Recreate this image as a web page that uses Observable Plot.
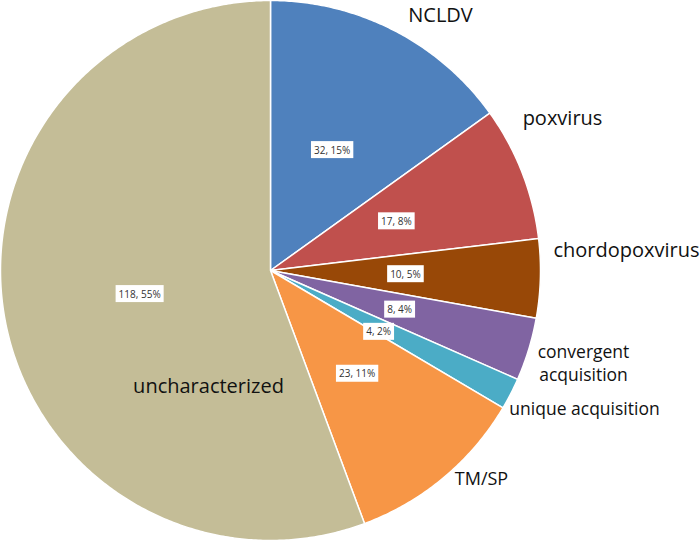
<!DOCTYPE html>
<html>
<head>
<meta charset="utf-8">
<script src="https://cdn.jsdelivr.net/npm/d3@7"></script>
<script src="https://cdn.jsdelivr.net/npm/@observablehq/plot@0.6"></script>
<style>
  html, body { margin: 0; padding: 0; background: #fff; }
  #chart { width: 700px; height: 540px; }
  svg { font-family: "Open Sans", "DejaVu Sans", sans-serif; }
</style>
</head>
<body>
<div id="chart"></div>
<script>
// ---- data ----
const categories = ["NCLDV", "poxvirus", "chordopoxvirus", "convergent acquisition", "unique acquisition", "TM/SP", "uncharacterized"];
const counts = [32, 17, 10, 8, 4, 23, 118];
const percents = [15, 8, 5, 4, 2, 11, 55];
const colors = ["#4F81BD", "#C0504D", "#984807", "#8064A2", "#4BACC6", "#F79646", "#C4BD97"];
const nameLabels = ["NCLDV", "poxvirus", "chordopoxvirus", "convergent\nacquisition", "unique acquisition", "TM/SP", "uncharacterized"];

// ---- layout (label anchors relative to pie centre, in pie units where radius = 270) ----
const R = 270;
const nameAnchors = [[170, 257], [292, 154], [356, 22], [313, -92], [314, -137], [211, -207], [-62, -114]];
const nameSizes = [20, 20, 20, 17.5, 17.5, 18, 20];
const valueNudges = [[0, 0], [0, 0], [0, 0], [0, 0], [-12, 0], [0, 0], [2, 0]];

// ---- geometry from data ----
const arcs = d3.pie().sort(null).value(d => d)(counts);
const slices = [];
arcs.forEach((a, i) => {
  const pts = [[0, 0]];
  const n = Math.max(2, Math.ceil((a.endAngle - a.startAngle) / (Math.PI / 360)));
  for (let k = 0; k <= n; k++) {
    const t = a.startAngle + (a.endAngle - a.startAngle) * k / n;
    pts.push([R * Math.sin(t), R * Math.cos(t)]);
  }
  pts.push([0, 0]);
  pts.forEach(p => slices.push({cat: categories[i], x: p[0], y: p[1]}));
});
const valueLabels = arcs.map((a, i) => {
  const m = (a.startAngle + a.endAngle) / 2;
  return {cat: categories[i], x: 0.5 * R * Math.sin(m) + valueNudges[i][0], y: 0.5 * R * Math.cos(m) + valueNudges[i][1], text: `${counts[i]}, ${percents[i]}%`};
});
const names = categories.map((c, i) => ({cat: c, x: nameAnchors[i][0], y: nameAnchors[i][1], text: nameLabels[i], size: nameSizes[i]}));

const chart = Plot.plot({
  width: 700,
  height: 540,
  margin: 0,
  x: {domain: [-270, 430], range: [0, 700], axis: null},
  y: {domain: [-270, 270], range: [540, 0], axis: null},
  color: {domain: categories, range: colors},
  marks: [
    Plot.line(slices, {x: "x", y: "y", z: "cat", fill: "cat", stroke: "white", strokeWidth: 1.5, strokeLinejoin: "round", curve: "linear"}),
    Plot.text(valueLabels, {x: "x", y: "y", text: "text", fontSize: 10, fill: "#333", className: "vlabel"}),
    ...names.map(d => Plot.text([d], {x: "x", y: "y", text: "text", fontSize: d.size, fill: "#111", lineHeight: 1.3}))
  ]
});
document.getElementById("chart").appendChild(chart);

// white boxes behind the value labels
chart.querySelectorAll(".vlabel text").forEach(t => {
  const b = t.getBBox();
  const r = document.createElementNS("http://www.w3.org/2000/svg", "rect");
  r.setAttribute("x", b.x - 3);
  r.setAttribute("y", b.y - 1.5);
  r.setAttribute("width", b.width + 6);
  r.setAttribute("height", b.height + 3);
  r.setAttribute("fill", "white");
  const tr = t.getAttribute("transform");
  if (tr) r.setAttribute("transform", tr);
  t.parentNode.insertBefore(r, t);
});
</script>
</body>
</html>
